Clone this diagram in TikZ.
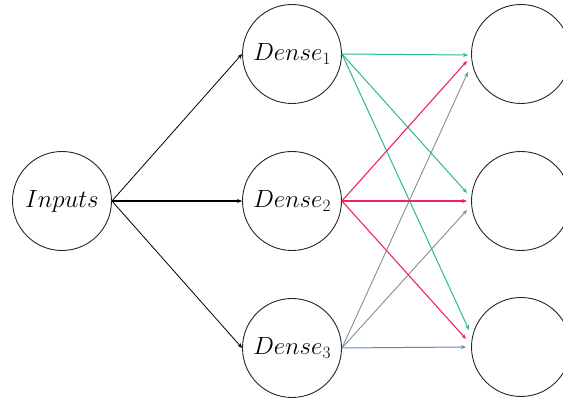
\documentclass[tikz,border=0pt]{standalone}
\usetikzlibrary{arrows.meta}
\definecolor{cgreen}{HTML}{2DB88E}
\definecolor{cred}{HTML}{F02459}
\definecolor{cblue}{HTML}{5C88C4}
\definecolor{cgray}{HTML}{7E8E9A}
\tikzset{
  neuron/.style={circle,draw=black!85,line width=0.9pt,minimum size=99pt,inner sep=0pt,font=\fontsize{26}{30}\selectfont},
  link/.style={line width=0.8pt,-{Stealth[length=5pt,width=4pt]}},
  glink/.style={link,draw=cgreen,line width=1pt},
  rlink/.style={link,draw=cred,line width=1.1pt},
  blink/.style={link,draw=cblue,line width=1pt},
  ylink/.style={link,draw=cgray,line width=0.9pt}
}
\begin{document}
\begin{tikzpicture}[x=1pt,y=1pt]
\useasboundingbox (0,0) rectangle (563,398);
\node[neuron] (in) at (62,197) {$Inputs$};
\node[neuron] (d1) at (292,344) {$Dense_1$};
\node[neuron] (d2) at (292,197) {$Dense_2$};
\node[neuron] (d3) at (292,50) {$Dense_3$};
\node[neuron] (o1) at (521,344) {};
\node[neuron] (o2) at (521,197) {};
\node[neuron] (o3) at (521,51) {};
\coordinate (a11) at (468,343);
\coordinate (a21) at (467,337);
\coordinate (a31) at (468,326);
\coordinate (a12) at (467,205);
\coordinate (a22) at (467,197);
\coordinate (a32) at (467,188);
\coordinate (a13) at (469,68);
\coordinate (a23) at (466,59);
\coordinate (a33) at (466,51);
\draw[link] (in.east) -- (d1.west);
\draw[link,line width=1.3pt] (in.east) -- (d2.west);
\draw[link] (in.east) -- (d3.west);
\draw[ylink] (d3.east) -- (a31);
\draw[ylink] (d3.east) -- (a32);
\draw[blink] (d3.east) -- (a33);
\draw[glink] (d1.east) -- (a11);
\draw[glink] (d1.east) -- (a12);
\draw[glink] (d1.east) -- (a13);
\draw[rlink] (d2.east) -- (a21);
\draw[rlink] (d2.east) -- (a22);
\draw[rlink] (d2.east) -- (a23);
\end{tikzpicture}
\end{document}
